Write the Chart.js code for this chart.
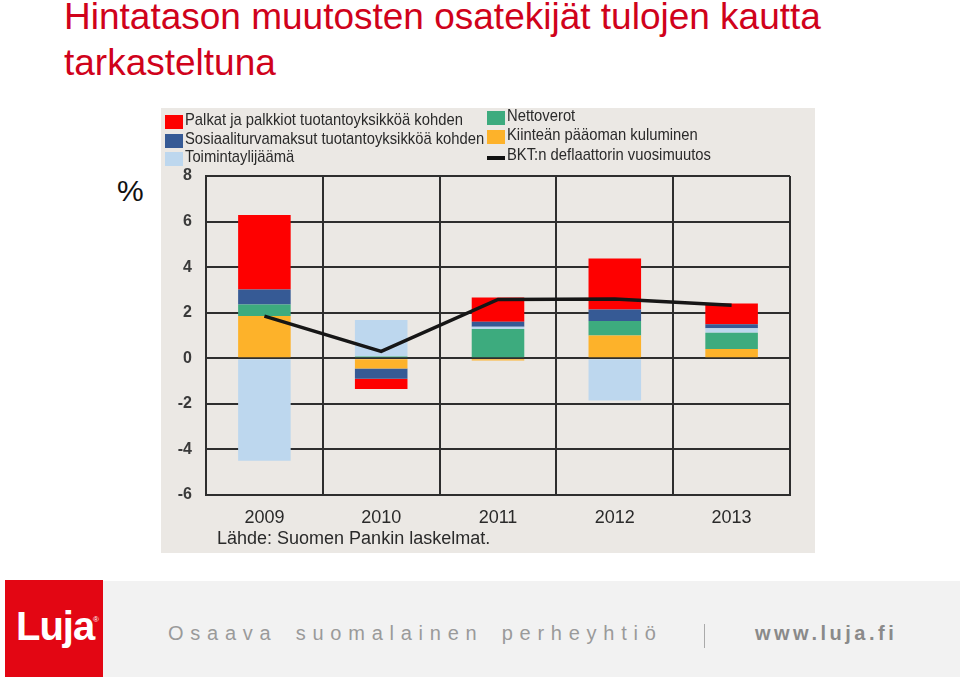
<!DOCTYPE html>
<html>
<head>
<meta charset="utf-8">
<script src="https://cdn.jsdelivr.net/npm/chart.js@4/dist/chart.umd.min.js"></script>
<style>
  body { margin: 0; background: #fff; width: 960px; height: 678px; position: relative; overflow: hidden; font-family: "Liberation Sans", Arial, sans-serif; }
  #title { position: absolute; left: 64px; top: -6px; color: #d0021b; font-size: 37px; line-height: 46px; white-space: nowrap; }
  #pct { position: absolute; left: 117px; top: 174px; font-size: 30px; color: #111; }
  #box { position: absolute; left: 161px; top: 108px; width: 654px; height: 445px; background: #ebe8e4; }
  #box canvas { position: absolute; left: 0; top: 0; }
  .leg { position: absolute; font-size: 17px; color: #2a2a2a; white-space: nowrap; transform: scaleX(0.87); transform-origin: left top; }
  .sw { position: absolute; width: 18px; height: 14px; }
  #src { position: absolute; left: 56px; top: 420px; font-size: 18px; color: #2a2a2a; white-space: nowrap; }
  #footer { position: absolute; left: 103px; top: 581px; width: 857px; height: 96px; background: #f2f2f2; }
  #logo { position: absolute; left: 5px; top: 580px; width: 98px; height: 97px; background: #e30613; }
  #logo span { position: absolute; left: 11px; top: 24px; color: #fff; font-weight: bold; font-size: 40px; letter-spacing: -1px; }
  #logo sup { position: absolute; left: 88px; top: 35px; color: #fff; font-size: 8px; }
  #slogan { position: absolute; left: 168px; top: 622px; font-size: 20px; color: #9a9a9a; letter-spacing: 6.75px; word-spacing: 6px; white-space: nowrap; }
  #bar { position: absolute; left: 704px; top: 624px; width: 1px; height: 24px; background: #aaa; }
  #web { position: absolute; left: 755px; top: 622px; font-size: 20px; color: #8a8a8a; font-weight: bold; letter-spacing: 3.5px; white-space: nowrap; }
</style>
</head>
<body>
<div id="title">Hintatason muutosten osatekijät tulojen kautta<br>tarkasteltuna</div>
<div id="pct">%</div>
<div id="box">
  <canvas id="chart" width="654" height="445"></canvas>
  <div id="legend"></div>
  <div id="src">Lähde: Suomen Pankin laskelmat.</div>
</div>
<div id="footer"></div>
<div id="logo"><span>Luja</span><sup>®</sup></div>
<div id="slogan">Osaava suomalainen perheyhtiö</div>
<div id="bar"></div>
<div id="web">www.luja.fi</div>
<script>
const years = ["2009", "2010", "2011", "2012", "2013"];
const yTicks = [-6, -4, -2, 0, 2, 4, 6, 8];

// stacked from the bottom up
const paaomanKuluminen = [1.86, -0.45, -0.1, 1.0, 0.41];
const nettoverot = [0.5, 0.08, 1.29, 0.64, 0.71];
const toimintaylijaama = [-4.5, 1.6, 0.09, -1.85, 0.2];
const sosiaaliturva = [0.66, -0.45, 0.22, 0.5, 0.17];
const palkat = [3.27, -0.45, 1.07, 2.24, 0.91];
const deflaattori = [1.85, 0.3, 2.58, 2.6, 2.33];

const colRed = "#fe0000";
const colBlue = "#365a95";
const colLight = "#bdd7ee";
const colGreen = "#3dab7e";
const colOrange = "#fdb22a";

function bar(label, data, color) {
    return {
        type: "bar",
        label: label,
        data: data,
        backgroundColor: color,
        borderWidth: 0,
        borderSkipped: false,
        stack: "s",
        order: 1,
        categoryPercentage: 1,
        barPercentage: 0.45,
    };
}

const datasets = [
    bar("Kiinteän pääoman kuluminen", paaomanKuluminen, colOrange),
    bar("Nettoverot", nettoverot, colGreen),
    bar("Toimintaylijäämä", toimintaylijaama, colLight),
    bar("Sosiaaliturvamaksut tuotantoyksikköä kohden", sosiaaliturva, colBlue),
    bar("Palkat ja palkkiot tuotantoyksikköä kohden", palkat, colRed),
    {
        type: "line",
        label: "BKT:n deflaattorin vuosimuutos",
        data: deflaattori,
        borderColor: "#161616",
        borderWidth: 3.5,
        pointRadius: 0,
        tension: 0,
        stack: "line",
        order: 0,
    },
];

// legend in two columns like the original
const legendItems = [
    { ds: datasets[4], x: 4, y: 6 },
    { ds: datasets[3], x: 4, y: 25 },
    { ds: datasets[2], x: 4, y: 43 },
    { ds: datasets[1], x: 326, y: 2 },
    { ds: datasets[0], x: 326, y: 21 },
    { ds: datasets[5], x: 326, y: 41 },
];
const legend = document.getElementById("legend");
legendItems.forEach((it) => {
    const sw = document.createElement("div");
    sw.className = "sw";
    sw.style.left = it.x + "px";
    if (it.ds.type === "bar") {
        sw.style.top = it.y + 1 + "px";
        sw.style.background = it.ds.backgroundColor;
    } else {
        sw.style.top = it.y + 7 + "px";
        sw.style.height = "4px";
        sw.style.background = "#111";
    }
    legend.appendChild(sw);
    const t = document.createElement("div");
    t.className = "leg";
    t.style.left = it.x + 20 + "px";
    t.style.top = it.y - 4 + "px";
    t.textContent = it.ds.label;
    legend.appendChild(t);
});

new Chart(document.getElementById("chart"), {
    data: { labels: years, datasets: datasets },
    options: {
        responsive: false,
        animation: false,
        layout: { padding: { top: 68, right: 25, left: 0, bottom: 0 } },
        plugins: { legend: { display: false }, tooltip: { enabled: false } },
        scales: {
            x: {
                stacked: true,
                offset: true,
                grid: { offset: true, color: "#2e2e2e", lineWidth: 2, drawTicks: false },
                border: { color: "#2e2e2e", width: 2 },
                ticks: { color: "#2a2a2a", font: { family: "Liberation Sans, Arial", size: 18 }, padding: 12 },
                afterFit: (s) => { s.height = 58; },
            },
            y: {
                stacked: true,
                min: -6,
                max: 8,
                afterBuildTicks: (s) => { s.ticks = yTicks.map((v) => ({ value: v })); },
                grid: { color: "#2e2e2e", lineWidth: 2, drawTicks: false },
                border: { color: "#2e2e2e", width: 2 },
                ticks: { color: "#3a3a3a", font: { family: "Liberation Sans, Arial", size: 16, weight: "bold" }, padding: 14 },
                afterFit: (s) => { s.width = 45; },
            },
        },
    },
});
</script>
</body>
</html>
